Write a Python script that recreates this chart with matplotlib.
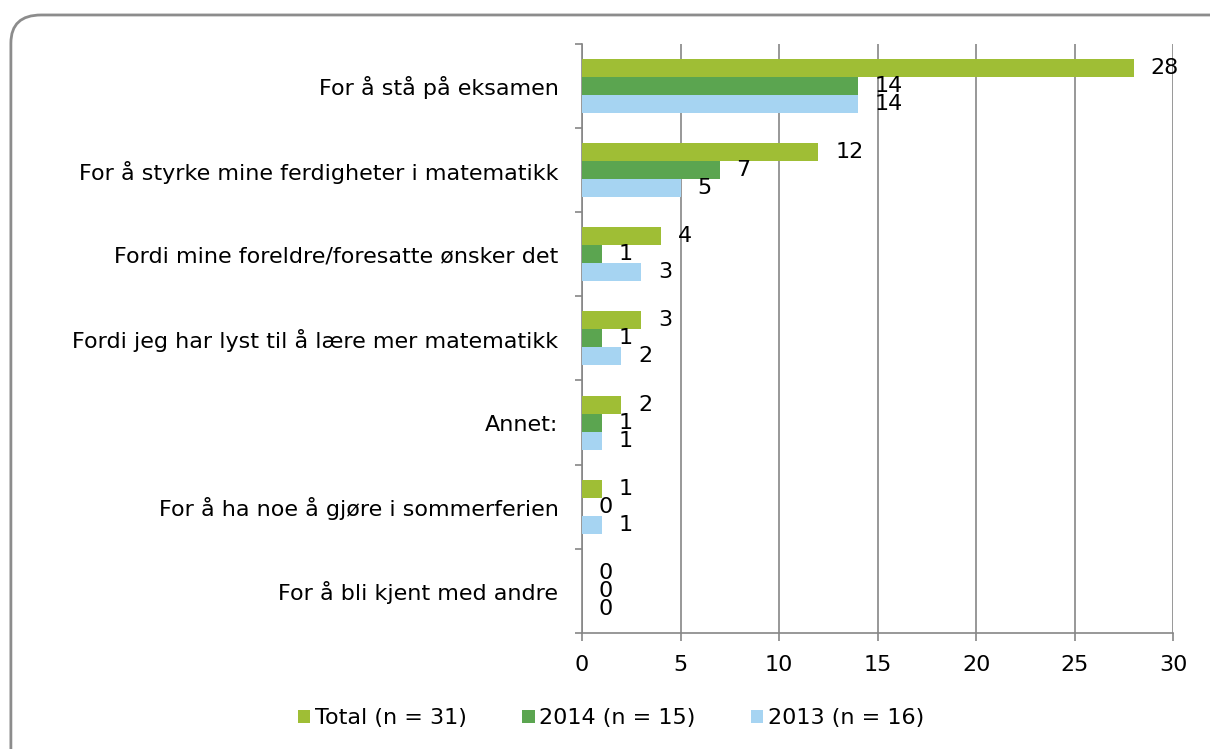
import numpy as np
import matplotlib.pyplot as plt
from matplotlib.patches import FancyBboxPatch
from matplotlib.patches import Patch

categories = [
    "For å stå på eksamen",
    "For å styrke mine ferdigheter i matematikk",
    "Fordi mine foreldre/foresatte ønsker det",
    "Fordi jeg har lyst til å lære mer matematikk",
    "Annet:",
    "For å ha noe å gjøre i sommerferien",
    "For å bli kjent med andre",
]
total = [28, 12, 4, 3, 2, 1, 0]
y2014 = [14, 7, 1, 1, 1, 0, 0]
y2013 = [14, 5, 3, 2, 1, 1, 0]
series_names = ["Total (n = 31)", "2014 (n = 15)", "2013 (n = 16)"]
colors = ["#9FBE35", "#5BA550", "#A6D4F2"]

plt.rcParams['font.family'] = ['DejaVu Sans']
fs = 16

fig = plt.figure(figsize=(12.1, 7.49), dpi=100)
ax = fig.add_axes([0.481, 0.155, 0.4885, 0.7865])

# rounded frame around the chart
frame = FancyBboxPatch((0.009, -0.05), 1.2, 1.03, boxstyle="round,pad=0,rounding_size=0.025",
                       transform=fig.transFigure, facecolor="none", edgecolor="#8c8c8c",
                       linewidth=2, mutation_aspect=1.5)
fig.patches.append(frame)

n = len(categories)
pos = np.arange(n)
h = 0.214
for i, (vals, c) in enumerate(zip([total, y2014, y2013], colors)):
    ys = pos + (i - 1) * h
    ax.barh(ys, vals, height=h, color=c, zorder=3)
    for y, v in zip(ys, vals):
        ax.annotate(str(v), (v, y), xytext=(12, 0), textcoords="offset points",
                    va="center", ha="left", fontsize=fs, zorder=4)

ax.set_xlim(0, 30)
ax.set_ylim(n - 0.5, -0.5)
ax.set_xticks(range(0, 31, 5))
ax.set_yticks(pos)
ax.set_yticklabels(categories, fontsize=fs)
ax.set_yticks(np.arange(-0.5, n, 1), minor=True)
ax.tick_params(axis='y', which='major', length=0, pad=17)
ax.tick_params(axis='y', which='minor', length=5, color="#868686", width=1.2)
ax.tick_params(axis='x', labelsize=fs, length=6, color="#868686", width=1.2, pad=10)
ax.grid(axis='x', color="#868686", linewidth=1.2, zorder=0)
for s in ['top', 'right']:
    ax.spines[s].set_visible(False)
for s in ['left', 'bottom']:
    ax.spines[s].set_color("#868686")
    ax.spines[s].set_linewidth(1.2)

handles = [Patch(facecolor=c) for c in colors]
fig.legend(handles, series_names, loc="center", bbox_to_anchor=(0.505, 0.041), ncol=3,
           frameon=False, fontsize=fs, handlelength=0.55, handleheight=0.55,
           handletextpad=0.2, columnspacing=2.5)

fig.savefig("out.png", dpi=100)
